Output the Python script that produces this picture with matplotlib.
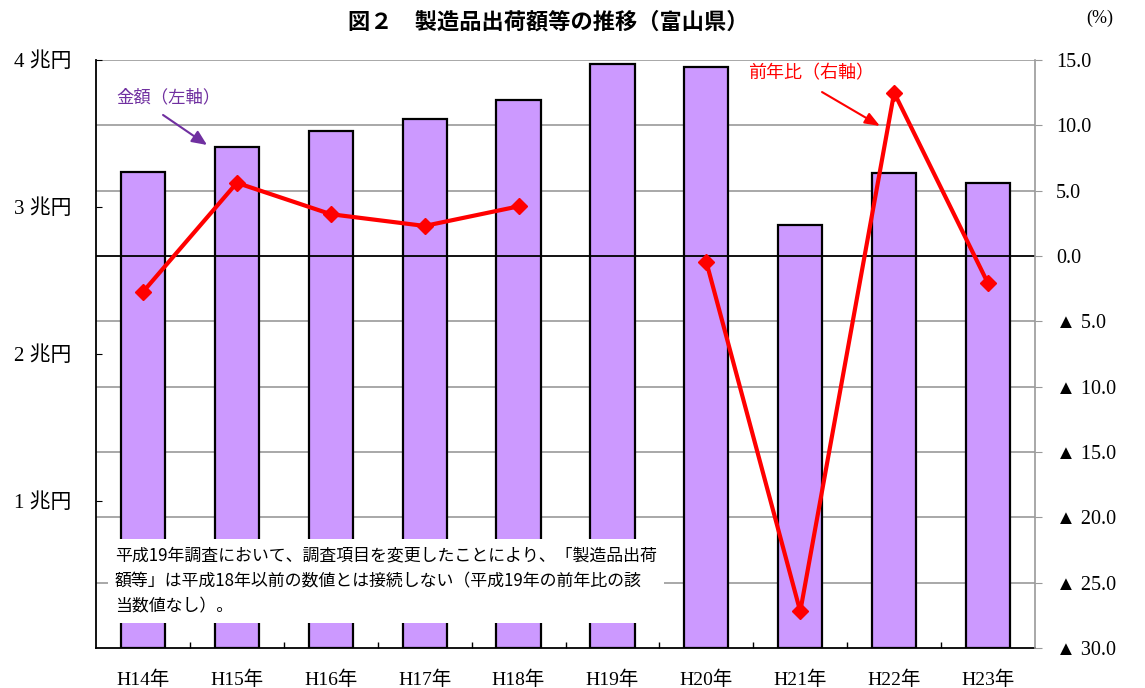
import matplotlib.pyplot as plt
import numpy as np

plt.rcParams['font.family'] = ['Liberation Serif', 'Noto Sans CJK JP']

# データ
years = ['H14年', 'H15年', 'H16年', 'H17年', 'H18年',
         'H19年', 'H20年', 'H21年', 'H22年', 'H23年']
amount = [3.24, 3.41, 3.52, 3.60, 3.73, 3.97, 3.95, 2.88, 3.23, 3.16]   # 兆円
yoy = [-2.75, 5.6, 3.2, 2.3, 3.8, np.nan, -0.46, -27.2, 12.5, -2.1]    # %（H19は該当なし）

left_ticks = [1, 2, 3, 4]
left_labels = ['1 兆円', '2 兆円', '3 兆円', '4 兆円']
right_ticks = [-30, -25, -20, -15, -10, -5, 0, 5, 10, 15]

left_lim = (0, 4)
right_lim = (-30, 15)

note = ('平成19年調査において、調査項目を変更したことにより、「製造品出荷\n'
        '額等」は平成18年以前の数値とは接続しない（平成19年の前年比の該\n'
        '当数値なし）。')


def to_left(v):
    # 右軸の値を左軸の座標へ
    return (v - right_lim[0]) / (right_lim[1] - right_lim[0]) * (left_lim[1] - left_lim[0]) + left_lim[0]


def fmt_right(v):
    if v < 0:
        return '▲ %.1f' % (-v)
    return '%.1f' % v


fig = plt.figure(figsize=(11.45, 6.88), dpi=100)
ax = fig.add_axes([96 / 1145, 40 / 688, 939 / 1145, 588 / 688])
ax2 = ax.twinx()

x = np.arange(len(years))

# グリッド（右軸の目盛り位置）
for v in right_ticks:
    if v in (0, -30):
        continue
    ax.axhline(to_left(v), color='#999999', lw=1.2, zorder=1)
ax.axhline(to_left(0), color='black', lw=1.3, zorder=3)

ax.bar(x, amount, width=0.47, color='#CC99FF', edgecolor='black', lw=1.6, zorder=2)

ax.set_xlim(-0.5, len(years) - 0.5)
ax.set_ylim(*left_lim)
ax.set_xticks(x)
ax.set_xticklabels(years, fontsize=14)
ax.set_xticks(np.arange(0.5, len(years) - 1, 1), minor=True)
ax.tick_params(axis='x', which='major', length=0, pad=16)
ax.tick_params(axis='x', which='minor', direction='in', length=4, width=1)
ax.set_yticks(left_ticks)
ax.set_yticklabels(left_labels, fontsize=15)
ax.tick_params(axis='y', direction='in', length=4, pad=18)

for s in ['left', 'bottom']:
    ax.spines[s].set_linewidth(1.3)
ax.spines['top'].set_visible(False)
ax.spines['right'].set_visible(False)

# 注記
ax.text(0.0202, 0.114, note, transform=ax.transAxes, fontsize=12.2,
        family=['Noto Sans CJK JP'], linespacing=1.55, va='center', ha='left',
        bbox=dict(facecolor='white', edgecolor='none', pad=5), zorder=6)

# 前年比（右軸）
ax2.plot(x, yoy, color='red', lw=3, marker='D', ms=8, zorder=5)
ax2.set_ylim(*right_lim)
ax2.set_yticks(right_ticks)
ax2.set_yticklabels([fmt_right(v) for v in right_ticks], fontsize=14.5)
ax2.tick_params(axis='y', direction='out', length=5, color='#999999', pad=10)
ax2.spines['right'].set_color('#999999')
ax2.spines['right'].set_linewidth(1.2)
for s in ['left', 'bottom', 'top']:
    ax2.spines[s].set_visible(False)

# 凡例がわりの注釈
ax.text(0.277, 3.748, '金額（左軸）', color='#7030A0', fontsize=12.5,
        family=['Noto Sans CJK JP'], ha='center', va='center')
ax.annotate('', xy=(0.682, 3.422), xytext=(0.214, 3.626),
            arrowprops=dict(arrowstyle='-|>,head_length=0.9,head_width=0.4',
                            color='#7030A0', lw=1.5, shrinkA=0, shrinkB=0))
ax.text(7.115, 3.912, '前年比（右軸）', color='red', fontsize=13,
        family=['Noto Sans CJK JP'], ha='center', va='center')
ax.annotate('', xy=(7.849, 3.551), xytext=(7.232, 3.782),
            arrowprops=dict(arrowstyle='-|>,head_length=0.9,head_width=0.35',
                            color='red', lw=1.5, shrinkA=0, shrinkB=0))

fig.text(548 / 1145, 1 - 22 / 688, '図２　製造品出荷額等の推移（富山県）',
         fontsize=16, fontweight='bold', family=['Noto Sans CJK JP'],
         ha='center', va='center')
fig.text(1100 / 1145, 1 - 18 / 688, '(%)', fontsize=13, ha='center', va='center')

fig.savefig('out.png', dpi=100)
